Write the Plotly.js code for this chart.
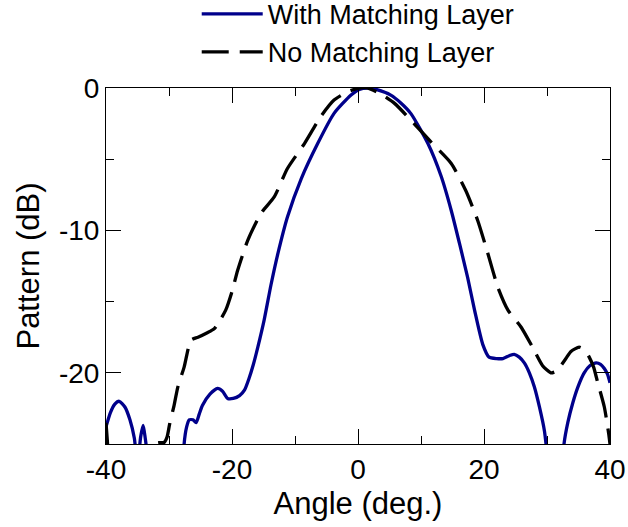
<!DOCTYPE html>
<html>
<head>
<meta charset="utf-8">
<script src="https://cdn.plot.ly/plotly-3.0.1.min.js"></script>
<style>html,body{margin:0;padding:0;background:#fff;}#chart{width:628px;height:527px;}</style>
</head>
<body>
<div id="chart"></div>
<script>
// With Matching Layer
const withAngle = [-40, -39.3, -38.6, -37.9, -37.0, -36.2, -35.5, -35.0, -34.5, -34.1, -33.8, -33.4, -33.0, -28.0, -27.6, -27.2, -26.8, -26.2, -25.7, -25.2, -24.7, -23.5, -22.3, -21.5, -20.7, -19.8, -18.8, -18.0, -17.3, -16.6, -15.9, -14.9, -13.8, -12.7, -11.2, -9.0, -6.4, -3.8, -1.1, 0.2, 1.5, 3.0, 5.2, 6.8, 8.4, 11.1, 13.2, 14.8, 16.1, 17.4, 18.5, 19.8, 20.8, 22.0, 23.0, 24.0, 24.8, 25.6, 26.4, 27.2, 28.0, 28.8, 29.6, 30.2, 31.0, 32.0, 32.7, 33.3, 34.1, 34.9, 35.9, 36.8, 37.8, 38.5, 39.1, 39.6, 40];
const withDb = [-23.8, -22.8, -22.2, -22.0, -22.4, -23.3, -24.6, -26.5, -24.5, -23.7, -24.5, -26.0, -30, -30, -25.0, -23.8, -23.3, -23.3, -23.5, -22.9, -22.3, -21.5, -21.1, -21.3, -21.8, -21.8, -21.6, -21.2, -20.4, -19.4, -18.2, -16.3, -13.8, -11.6, -9.06, -6.36, -3.9, -1.78, -0.49, -0.1, 0, -0.12, -0.5, -1.05, -1.8, -3.9, -6.2, -8.6, -10.9, -13.3, -15.6, -18.0, -18.9, -19.0, -19.0, -18.8, -18.7, -18.9, -19.3, -20.0, -21.0, -22.4, -24.1, -26.5, -30, -30, -25.0, -23.5, -22.1, -21.0, -20.0, -19.5, -19.3, -19.4, -19.7, -20.1, -20.7];

// No Matching Layer
const noAngle = [-40, -39.7, -39.3, -33.0, -32.3, -31.5, -30.8, -30.3, -29.9, -29.2, -28.6, -27.6, -26.5, -25.4, -24.0, -22.8, -21.0, -20.0, -19.1, -17.5, -15.4, -13.3, -11.2, -8.5, -5.9, -3.8, -1.6, 0.2, 1.5, 3.5, 5.8, 8.9, 11.6, 14.8, 17.1, 19.0, 20.6, 22.2, 23.8, 25.9, 27.7, 29.3, 30.6, 31.4, 32.2, 33.0, 33.8, 35.1, 36.0, 36.7, 37.4, 38.0, 39.1, 39.8, 40];
const noDb = [-23.5, -25.3, -28, -28, -25.0, -24.9, -24.9, -24.5, -23.6, -22.3, -21.0, -19.6, -17.7, -17.5, -17.2, -16.9, -15.6, -14.3, -12.8, -10.7, -8.8, -7.65, -5.65, -3.9, -2.0, -0.85, -0.26, 0, 0, -0.4, -1.08, -2.5, -3.8, -5.3, -7.2, -9.3, -11.6, -14.0, -15.6, -16.8, -18.2, -19.5, -20.0, -19.9, -19.5, -19.0, -18.5, -18.2, -18.4, -18.9, -19.6, -20.6, -22.4, -24.3, -25.0];

const xTickVals = [-40, -20, 0, 20, 40];
const yTickVals = [0, -10, -20];

const FONT = 'Liberation Sans, Arial, sans-serif';

const traces = [
  {x: withAngle, y: withDb, name: 'With Matching Layer', mode: 'lines',
   line: {color: '#00008b', width: 3.3, shape: 'spline', smoothing: 0.6}},
  {x: noAngle, y: noDb, name: 'No Matching Layer', mode: 'lines',
   line: {color: '#000000', width: 3.3, dash: '27px,11px', shape: 'spline', smoothing: 0.6}}
];

const axisCommon = {
  showline: true, linecolor: '#000', linewidth: 1, mirror: 'ticks',
  ticks: 'inside', ticklen: 15, tickwidth: 1, tickcolor: '#000',
  showgrid: false, zeroline: false,
  tickfont: {family: FONT, size: 28, color: '#000'}
};

const layout = {
  width: 628, height: 527,
  margin: {l: 106, r: 18, t: 88, b: 83, autoexpand: false},
  paper_bgcolor: '#fff', plot_bgcolor: '#fff',
  showlegend: true,
  legend: {x: 0.18, y: 1.276, xanchor: 'left', yanchor: 'top',
    font: {family: FONT, size: 27, color: '#000'}, itemwidth: 61,
    bgcolor: 'rgba(0,0,0,0)', borderwidth: 0, tracegroupgap: 0},
  xaxis: Object.assign({}, axisCommon, {
    range: [-40, 40], tickvals: xTickVals, ticktext: xTickVals.map(String),
    minor: {dtick: 10, tick0: 0, ticks: 'inside', ticklen: 8, tickcolor: '#000', tickwidth: 1, showgrid: false},
    title: {text: 'Angle (deg.)', font: {family: FONT, size: 31, color: '#000'}, standoff: 8}
  }),
  yaxis: Object.assign({}, axisCommon, {
    range: [-25, 0], tickvals: yTickVals, ticktext: yTickVals.map(String),
    minor: {dtick: 5, tick0: 0, ticks: 'inside', ticklen: 8, tickcolor: '#000', tickwidth: 1, showgrid: false},
    title: {text: 'Pattern (dB)', font: {family: FONT, size: 31, color: '#000'}, standoff: 10}
  })
};

Plotly.newPlot('chart', traces, layout, {displayModeBar: false, staticPlot: true});
</script>
</body>
</html>
